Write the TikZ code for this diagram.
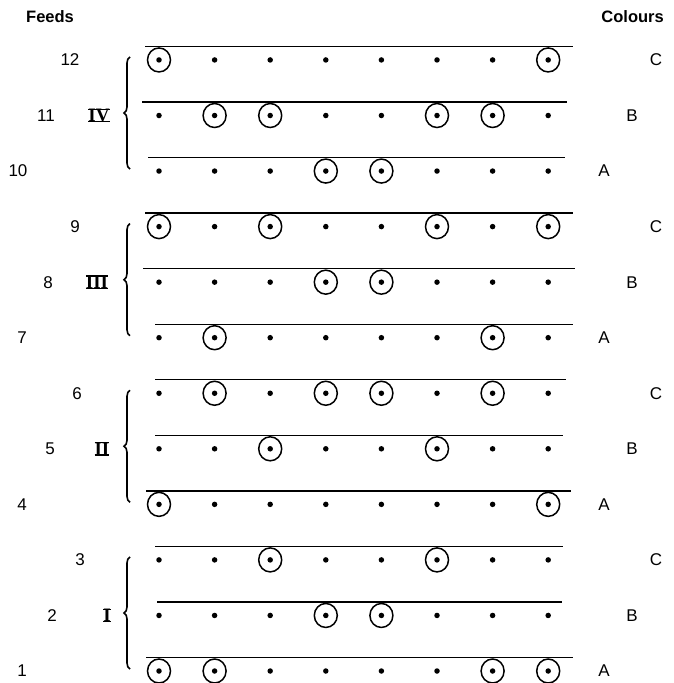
\documentclass[tikz,border=0pt]{standalone}
\usepackage{fontspec}
\setmainfont{Liberation Sans}
\newfontfamily\romfont{Liberation Serif}
\usetikzlibrary{decorations.pathreplacing}
\newcommand\barred[1]{\setbox0\hbox{#1}\rlap{\rule[-0.5pt]{\wd0}{1.3pt}}\rlap{\rule[\dimexpr\ht0-0.8pt\relax]{\wd0}{1.3pt}}\box0}
\begin{document}
\begin{tikzpicture}[x=1pt,y=-1pt,
  dot/.style={circle,fill,inner sep=0pt,minimum size=5.5pt},
  loopring/.style={line width=1.5pt},
  thread/.style={line width=1.4pt},
  lbl/.style={font=\fontsize{17}{17}\selectfont,inner sep=0pt},
  head/.style={font=\bfseries\fontsize{16.5}{16.5}\selectfont,inner sep=0pt},
  roman/.style={font=\romfont\bfseries\fontsize{19}{19}\selectfont,inner sep=0pt},
  grp/.style={decorate,decoration={brace,amplitude=6pt},line width=1.6pt}]
\useasboundingbox (0,0) rectangle (673,683);
\fill[white] (0,0) rectangle (673,683);
% rows of needles, loops and threads
\foreach \r/\xa/\xb/\cl in {1/146/573/{1,2,7,8}, 2/157/562/{4,5}, 3/155/563/{3,6},
  4/146/571/{1,8}, 5/155/563/{3,6}, 6/155/566/{2,4,5,7}, 7/155/573/{2,7},
  8/143/575/{4,5}, 9/145/573/{1,3,6,8}, 10/148/565/{4,5}, 11/142/567/{2,3,6,7},
  12/145/573/{1,8}} {
  \pgfmathsetmacro\yy{671-55.55*(\r-1)}
  \foreach \c in {1,...,8} \node[dot] (d\r-\c) at ({159+55.6*(\c-1)},\yy) {};
  \foreach \c in \cl \draw[loopring] (d\r-\c) ellipse[x radius=11.5pt,y radius=12pt];
  \coordinate (ts\r) at (\xa,\yy-13.5);
  \coordinate (te\r) at (\xb,\yy-13.5);
  \draw[thread] (ts\r) -- (te\r);
}
% feed numbers
\foreach \r/\x in {1/22,2/52,3/80,4/22,5/50,6/77,7/22,8/48,9/75,10/18,11/46,12/70}
  \node[lbl] (f\r) at (\x,{671-55.55*(\r-1)}) {\r};
% colour letters
\foreach \r/\x/\t in {1/604/A,2/632/B,3/656/C,4/604/A,5/632/B,6/656/C,7/604/A,8/632/B,9/656/C,10/604/A,11/632/B,12/656/C}
  \node[lbl] (c\r) at (\x,{671-55.55*(\r-1)}) {\t};
% groups: braces and roman numerals
\foreach \g/\x/\t in {1/107/I,2/102/II,3/97/III,4/99/IV} {
  \pgfmathsetmacro\ytop{671-55.55*(3*\g-1)}
  \pgfmathsetmacro\ybot{671-55.55*(3*\g-3)}
  \coordinate (bt\g) at (130,\ytop-3);
  \coordinate (bb\g) at (130,\ybot-2);
  \draw[grp] (bb\g) -- (bt\g);
  \node[roman] (g\g) at (\x,{671-55.55*(3*\g-2)}) {\barred{\t}};
}
\node[head,anchor=west] (feeds) at (26,17) {Feeds};
\node[head,anchor=east] (colours) at (664,17) {Colours};
\end{tikzpicture}
\end{document}
